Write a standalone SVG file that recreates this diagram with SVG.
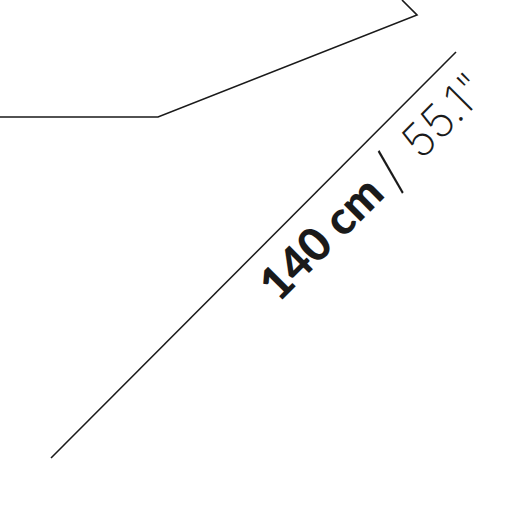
<svg xmlns="http://www.w3.org/2000/svg" width="507" height="508" viewBox="0 0 507 508">
<style>
.ln{fill:none;stroke:#1a1a1a;stroke-width:1.6;stroke-linecap:butt;stroke-linejoin:miter}
.b{font-family:Lato,"Open Sans","Liberation Sans",sans-serif;font-weight:900;font-size:46px;fill:#1a1a1a}
.t{font-family:Inter,Lato,"Liberation Sans",sans-serif;font-weight:200;font-size:46px;fill:#1a1a1a}
</style>
<rect width="507" height="508" fill="#fff"/>
<g id="connectors">
<polyline class="ln" points="0,117 158,117 417,15 402,0"/>
<line class="ln" x1="51" y1="458" x2="456" y2="52"/>
</g>
<g id="label" transform="translate(283,299) rotate(-45)">
<text class="b" x="-6" y="0">140 cm</text>
<text class="t" x="157" y="4" style="font-size:54px">/</text>
<text class="t" x="195" y="0">55.1"</text>
</g>
</svg>
